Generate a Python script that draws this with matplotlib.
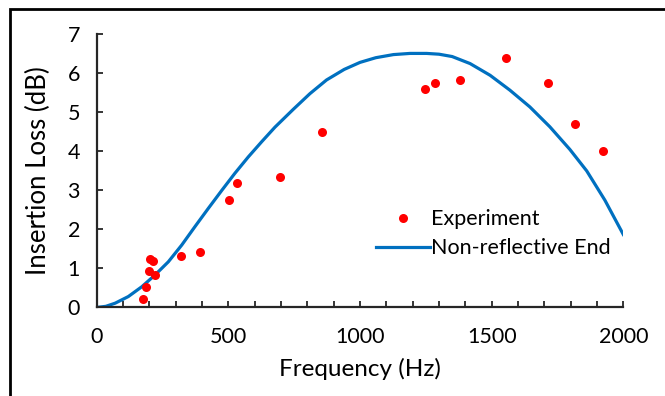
import numpy as np
from matplotlib import pyplot as plt
from matplotlib.ticker import MultipleLocator
from matplotlib.patches import Rectangle

plt.rcParams['font.family'] = ['Lato', 'DejaVu Sans']

# measured points (Hz, dB)
exp_freq = [177, 188, 197, 204, 212, 223, 319, 392, 502, 534, 696, 857,
            1248, 1284, 1381, 1553, 1713, 1815, 1923]
exp_il = [0.21, 0.53, 0.93, 1.23, 1.18, 0.82, 1.33, 1.42, 2.76, 3.18, 3.34, 4.49,
          5.61, 5.75, 5.82, 6.40, 5.75, 4.69, 4.02]

# non-reflective end model
model_freq = [0, 35, 70, 120, 171, 221, 272, 323, 373, 424, 475, 525, 576, 627,
              677, 747, 810, 873, 940, 1000, 1060, 1127, 1190, 1253, 1300, 1350,
              1418, 1494, 1569, 1645, 1721, 1797, 1861, 1930, 2000]
model_il = [0.0, 0.03, 0.11, 0.28, 0.53, 0.83, 1.17, 1.60, 2.07, 2.54, 3.00, 3.44,
            3.86, 4.25, 4.62, 5.08, 5.48, 5.83, 6.10, 6.28, 6.40, 6.48, 6.51, 6.51,
            6.49, 6.43, 6.25, 5.95, 5.57, 5.14, 4.63, 4.05, 3.50, 2.75, 1.87]

fig = plt.figure(figsize=(6.65, 3.96), dpi=100)
ax = fig.add_axes([0.1454, 0.2235, 0.7919, 0.6899])

ax.plot(model_freq, model_il, color='#0070C0', lw=2.3, label='Non-reflective End',
        zorder=2, solid_joinstyle='round')
ax.plot(exp_freq, exp_il, 'o', color='#FF0000', ms=6.5, mec='none', label='Experiment', zorder=3)

ax.set_xlim(0, 2000)
ax.set_ylim(0, 7)
ax.xaxis.set_major_locator(MultipleLocator(500))
ax.xaxis.set_minor_locator(MultipleLocator(100))
ax.yaxis.set_major_locator(MultipleLocator(1))

for s in ['top', 'right']:
    ax.spines[s].set_visible(False)
for s in ['left', 'bottom']:
    ax.spines[s].set_linewidth(1.6)
    ax.spines[s].set_color('#262626')
ax.tick_params(which='both', direction='in', length=4.5, width=1.3, color='#262626',
               labelsize=15.5)
ax.tick_params(axis='y', pad=12)
ax.tick_params(axis='x', pad=14)

ax.set_xlabel('Frequency (Hz)', fontsize=17.5, labelpad=8)
ax.set_ylabel('Insertion Loss (dB)', fontsize=18.5, labelpad=12)

handles, labels = ax.get_legend_handles_labels()
ax.legend(handles[::-1], labels[::-1], loc='upper left', bbox_to_anchor=(0.5654, 0.472),
          bbox_transform=fig.transFigure, frameon=False, fontsize=15.5,
          handlelength=2.5, handletextpad=0.05, labelspacing=0.43, borderpad=0,
          borderaxespad=0)

# outer frame (only left and top visible in the crop)
fig.patches.append(Rectangle((0.015, -0.1), 1.2, 1.077, transform=fig.transFigure,
                             fill=False, lw=2, ec='black'))

fig.savefig('out.png', dpi=100)
